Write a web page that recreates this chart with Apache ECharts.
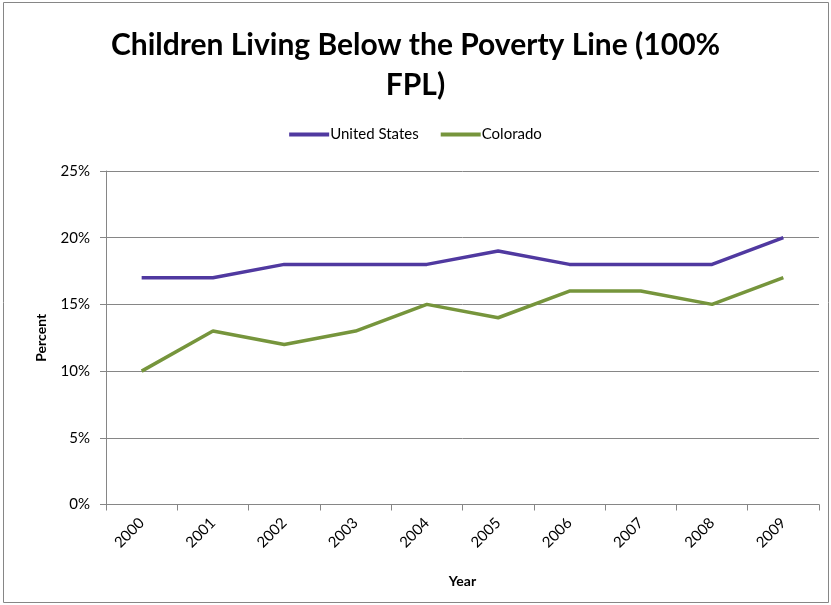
<!DOCTYPE html>
<html>
<head>
<meta charset="utf-8">
<script src="https://cdn.jsdelivr.net/npm/echarts@6/dist/echarts.min.js"></script>
<style>
  html, body { margin: 0; padding: 0; background: #fff; }
  #main { width: 831px; height: 605px; }
</style>
</head>
<body>
<div id="main"></div>
<script>
// data
var years = ['2000', '2001', '2002', '2003', '2004', '2005', '2006', '2007', '2008', '2009'];
var usValues = [17, 17, 18, 18, 18, 19, 18, 18, 18, 20];
var coValues = [10, 13, 12, 13, 15, 14, 16, 16, 15, 17];
var seriesNames = ['United States', 'Colorado'];

var myChart = echarts.init(document.getElementById('main'));
var font = 'Lato, "Open Sans", sans-serif';
var option = {
    backgroundColor: '#fff',
    animation: false,
    textStyle: { fontFamily: font },
    graphic: [{
        type: 'rect',
        shape: { x: 3.5, y: 2.5, width: 825, height: 600 },
        style: { fill: 'none', stroke: '#868686', lineWidth: 1 }
    }],
    title: {
        text: 'Children Living Below the Poverty Line (100%\nFPL)',
        left: 'center',
        top: 20,
        textStyle: {
            fontFamily: font,
            fontSize: 30,
            fontWeight: 'bold',
            color: '#000',
            lineHeight: 40
        }
    },
    legend: {
        top: 122,
        left: 'center',
        itemWidth: 40,
        itemHeight: 4,
        itemGap: 22,
        icon: 'rect',
        textStyle: { fontFamily: font, fontSize: 15, color: '#000', padding: [0, 0, 0, -4] },
        data: seriesNames
    },
    grid: {
        left: 106,
        right: 12,
        top: 171,
        bottom: 100.5
    },
    xAxis: {
        type: 'category',
        data: years,
        boundaryGap: true,
        name: 'Year',
        nameLocation: 'middle',
        nameGap: 70,
        nameTextStyle: { fontFamily: font, fontSize: 14, fontWeight: 'bold', color: '#000' },
        axisLine: { lineStyle: { color: '#868686', width: 1 } },
        axisTick: { show: true, interval: 0, length: 6, lineStyle: { color: '#868686' } },
        axisLabel: { rotate: 45, margin: 16, fontSize: 15, color: '#000', fontFamily: font }
    },
    yAxis: {
        type: 'value',
        min: 0,
        max: 25,
        interval: 5,
        name: 'Percent',
        nameLocation: 'middle',
        nameGap: 58,
        nameTextStyle: { fontFamily: font, fontSize: 14, fontWeight: 'bold', color: '#000' },
        axisLine: { show: true, lineStyle: { color: '#868686', width: 1 } },
        axisTick: { show: true, length: 6, lineStyle: { color: '#868686' } },
        axisLabel: { formatter: '{value}%', fontSize: 15, color: '#000', margin: 16, fontFamily: font },
        splitLine: { lineStyle: { color: '#868686', width: 1 } }
    },
    series: [{
        name: seriesNames[0],
        type: 'line',
        data: usValues,
        symbol: 'none',
        lineStyle: { color: '#5039A0', width: 3.5 },
        itemStyle: { color: '#5039A0' }
    }, {
        name: seriesNames[1],
        type: 'line',
        data: coValues,
        symbol: 'none',
        lineStyle: { color: '#76953C', width: 3.5 },
        itemStyle: { color: '#76953C' }
    }]
};

myChart.setOption(option);
</script>
</body>
</html>
